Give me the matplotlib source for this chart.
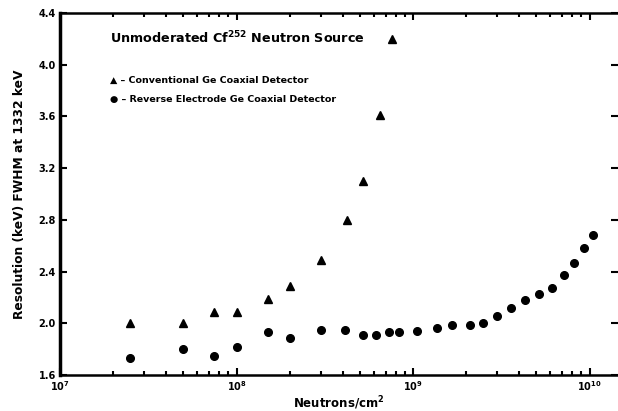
import matplotlib
matplotlib.use("Agg")
import matplotlib.pyplot as plt
from matplotlib.ticker import LogLocator, NullFormatter, FixedLocator

# Data
conv_x = [2.5e7, 5e7, 7.5e7, 1e8, 1.5e8, 2e8, 3e8, 4.2e8, 5.2e8, 6.5e8, 7.6e8]
conv_y = [2.0, 2.0, 2.09, 2.09, 2.19, 2.29, 2.49, 2.80, 3.10, 3.61, 4.20]

rev_x = [2.5e7, 5e7, 7.5e7, 1e8, 1.5e8, 2e8, 3e8, 4.1e8, 5.2e8, 6.2e8, 7.3e8, 8.3e8,
         1.05e9, 1.37e9, 1.67e9, 2.1e9, 2.5e9, 3e9, 3.6e9, 4.3e9, 5.2e9, 6.1e9,
         7.2e9, 8.2e9, 9.3e9, 1.05e10]
rev_y = [1.73, 1.80, 1.75, 1.82, 1.93, 1.89, 1.95, 1.95, 1.91, 1.91, 1.93, 1.93,
         1.94, 1.96, 1.99, 1.99, 2.0, 2.06, 2.12, 2.18, 2.23, 2.27,
         2.37, 2.47, 2.58, 2.68]

y_ticks = [1.6, 2.0, 2.4, 2.8, 3.2, 3.6, 4.0, 4.4]
x_ticks = [1e7, 1e8, 1e9, 1e10]
x_labels = ["10$^{7}$", "10$^{8}$", "10$^{9}$", "10$^{10}$"]

title = "Unmoderated Cf$^{252}$ Neutron Source"
leg1 = "\u25B2 \u2013 Conventional Ge Coaxial Detector"
leg2 = "\u25CF \u2013 Reverse Electrode Ge Coaxial Detector"

plt.rcParams['font.family'] = ['DejaVu Sans']
plt.rcParams['font.weight'] = 'bold'

fig = plt.figure(figsize=(6.18, 4.11), dpi=100)
ax = fig.add_axes([60/618, 36/411, 558/618, 362/411])

ax.plot(conv_x, conv_y, linestyle='none', marker='^', color='black', markersize=6)
ax.plot(rev_x, rev_y, linestyle='none', marker='o', color='black', markersize=5.5)

ax.set_xscale('log')
ax.set_xlim(1e7, 1.45e10)
ax.set_ylim(1.6, 4.4)

ax.xaxis.set_major_locator(FixedLocator(x_ticks))
ax.set_xticklabels(x_labels)
ax.xaxis.set_minor_locator(LogLocator(base=10, subs=range(2, 10)))
ax.xaxis.set_minor_formatter(NullFormatter())
ax.set_yticks(y_ticks)
ax.set_yticklabels([f"{v:.1f}" for v in y_ticks])

ax.tick_params(which='both', direction='in', top=True, right=True, labelsize=7,
               width=1.5, pad=3)
ax.tick_params(which='major', length=5)
ax.tick_params(which='minor', length=3)
for lab in ax.get_xticklabels() + ax.get_yticklabels():
    lab.set_fontweight('bold')

ax.spines['left'].set_linewidth(2.5)
ax.spines['bottom'].set_linewidth(1.8)
ax.spines['top'].set_linewidth(1.8)
ax.spines['right'].set_visible(False)

ax.set_xlabel("Neutrons/cm$^{2}$", fontsize=8.5, fontweight='bold', labelpad=1)
ax.set_ylabel("Resolution (keV) FWHM at 1332 keV", fontsize=8.8, fontweight='bold', labelpad=9)

ax.text(0.09, 0.93, title, transform=ax.transAxes, fontsize=9.2, fontweight='bold',
        va='center', ha='left')
ax.text(0.09, 0.815, leg1, transform=ax.transAxes, fontsize=6.8, fontweight='bold',
        va='center', ha='left')
ax.text(0.09, 0.762, leg2, transform=ax.transAxes, fontsize=6.8, fontweight='bold',
        va='center', ha='left')

fig.savefig("out.png", dpi=100)
